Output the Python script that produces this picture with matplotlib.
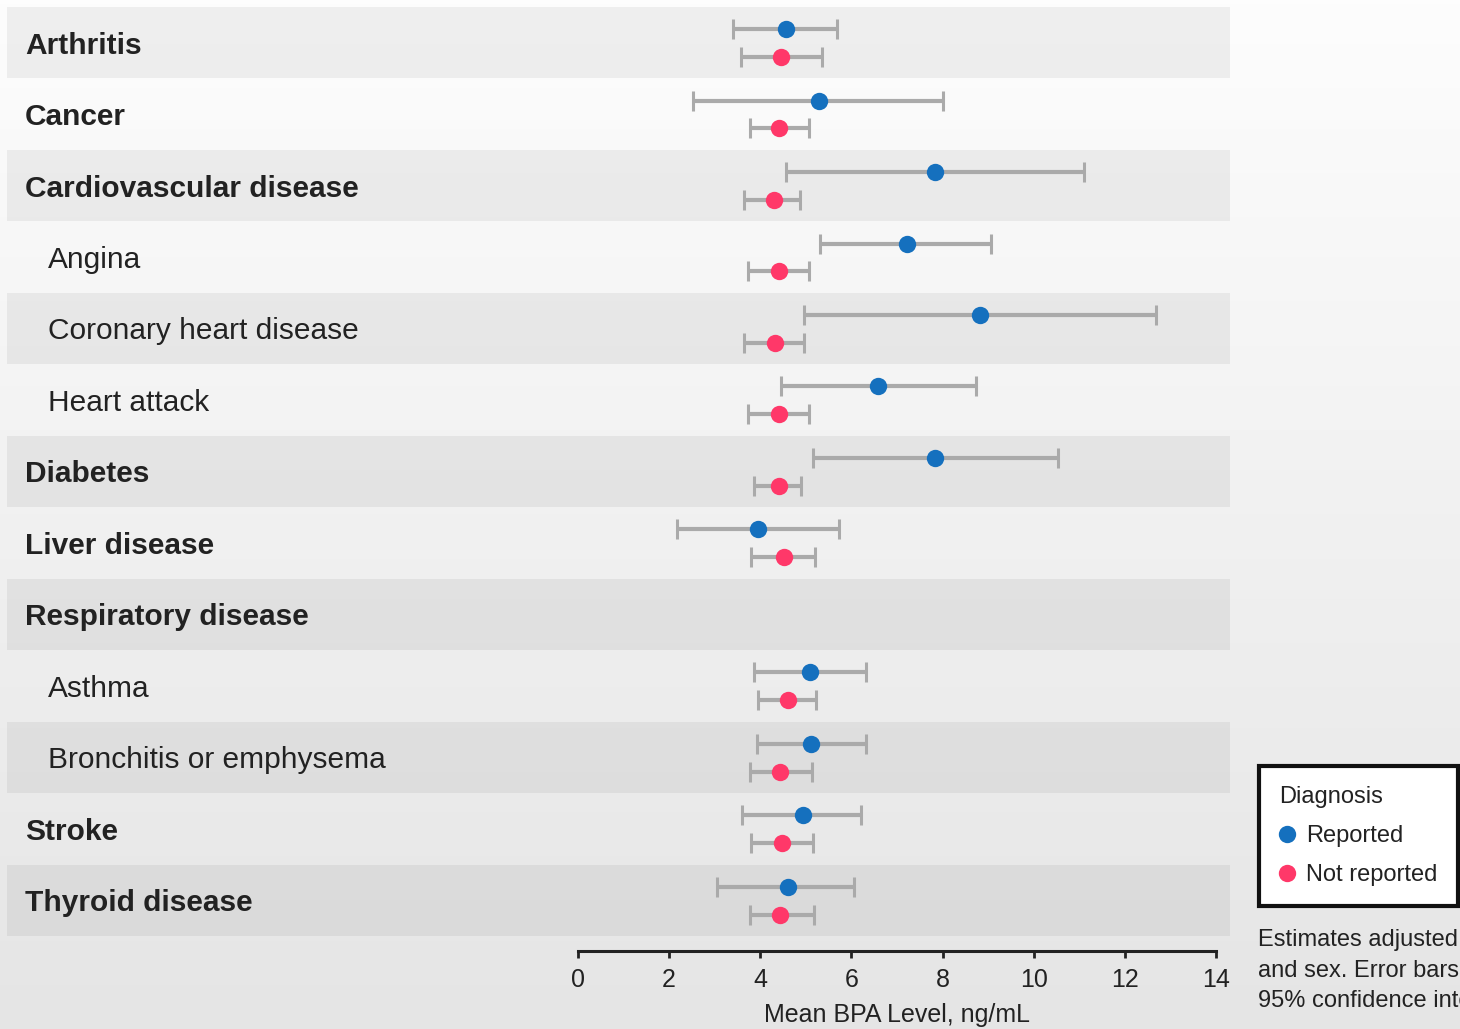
import numpy as np
import matplotlib
matplotlib.use("Agg")
import matplotlib.pyplot as plt
from matplotlib.lines import Line2D

plt.rcParams['font.family'] = ['Liberation Sans', 'DejaVu Sans']

# Filas del gráfico (de arriba a abajo)
labels = ["Arthritis", "Cancer", "Cardiovascular disease", "Angina",
          "Coronary heart disease", "Heart attack", "Diabetes", "Liver disease",
          "Respiratory disease", "Asthma", "Bronchitis or emphysema", "Stroke",
          "Thyroid disease"]
is_sub = [False, False, False, True, True, True, False, False, False,
          True, True, False, False]

# Diagnóstico reportado
rep_mean = [4.56, 5.28, 7.84, 7.21, 8.83, 6.59, 7.84, 3.96, np.nan, 5.08, 5.12, 4.94, 4.61]
rep_lo = [3.41, 2.53, 4.56, 5.30, 4.97, 4.45, 5.16, 2.18, np.nan, 3.86, 3.92, 3.60, 3.06]
rep_hi = [5.68, 8.02, 11.10, 9.06, 12.68, 8.74, 10.53, 5.73, np.nan, 6.33, 6.33, 6.21, 6.06]

# Diagnóstico no reportado
not_mean = [4.45, 4.41, 4.29, 4.42, 4.33, 4.42, 4.42, 4.52, np.nan, 4.60, 4.44, 4.48, 4.44]
not_lo = [3.58, 3.77, 3.64, 3.74, 3.64, 3.74, 3.87, 3.80, np.nan, 3.96, 3.77, 3.80, 3.77]
not_hi = [5.35, 5.07, 4.88, 5.07, 4.97, 5.07, 4.89, 5.19, np.nan, 5.22, 5.13, 5.16, 5.18]

BLUE = "#1570be"
PINK = "#ff3869"
GREY = "#aaaaaa"
TXT = "#222222"

W, H = 1460, 1029
fig = plt.figure(figsize=(W / 100, H / 100), dpi=100)

# fondo degradado
bg = fig.add_axes([0, 0, 1, 1], zorder=-10)
grad = np.linspace(253, 229, 256)[:, None] / 255.0
bg.imshow(np.dstack([grad, grad, grad]), aspect="auto", extent=[0, 1, 0, 1])
bg.set_axis_off()

# ejes principales
x0, x1, y0, y1 = 7, 1230, 7, 936
ax = fig.add_axes([x0 / W, 1 - y1 / H, (x1 - x0) / W, (y1 - y0) / H])
ax.patch.set_alpha(0)
unit = (1216 - 578) / 14
ax.set_xlim(-(578 - x0) / unit, 14 + (x1 - 1216) / unit)
n = len(labels)
ax.set_ylim(n, 0)

for i in range(n):
    if i % 2 == 0:
        ax.axhspan(i, i + 1, color="black", alpha=0.055, lw=0, zorder=0)

pos = np.arange(n)
series = [(rep_mean, rep_lo, rep_hi, BLUE, 0.31),
          (not_mean, not_lo, not_hi, PINK, 0.70)]
for mean, lo, hi, col, off in series:
    m = np.array(mean)
    ax.errorbar(m, pos + off, xerr=[m - np.array(lo), np.array(hi) - m],
                fmt="none", ecolor=GREY, elinewidth=3, capsize=7.5,
                capthick=2.2, zorder=2)
    ax.plot(m, pos + off, "o", color=col, ms=12.5, mew=0, zorder=3)

trans = ax.get_yaxis_transform()
for i, (lab, sub) in enumerate(zip(labels, is_sub)):
    if sub:
        ax.text((48 - x0) / (x1 - x0), i + 0.54, lab, transform=trans, va="center",
                ha="left", fontsize=21.5, color=TXT)
    else:
        ax.text((25 - x0) / (x1 - x0), i + 0.54, lab, transform=trans, va="center",
                ha="left", fontsize=21.5, color=TXT, fontweight="bold")

for s in ["left", "right", "top"]:
    ax.spines[s].set_visible(False)
ax.spines["bottom"].set_bounds(0, 14)
ax.spines["bottom"].set_position(("outward", 11))
ax.spines["bottom"].set_linewidth(2.2)
ax.spines["bottom"].set_color(TXT)
ax.set_yticks([])
ax.set_xticks(np.arange(0, 15, 2))
ax.tick_params(axis="x", direction="out", length=5, width=2, color=TXT,
               labelsize=18, labelcolor=TXT, pad=7)
ax.set_xlabel("Mean BPA Level, ng/mL", fontsize=18, color=TXT)
ax.xaxis.set_label_coords((897 - x0) / (x1 - x0), -0.072)

# leyenda
handles = [Line2D([], [], ls="none", marker="o", color=BLUE, ms=12.5, mew=0),
           Line2D([], [], ls="none", marker="o", color=PINK, ms=12.5, mew=0)]
leg = fig.legend(handles, ["Reported", "Not reported"], title="Diagnosis",
                 loc="upper left", bbox_to_anchor=(1259 / W, 1 - 766 / H),
                 fontsize=17, title_fontsize=17, frameon=True, fancybox=False,
                 borderpad=0.85, handlelength=0.7, handletextpad=0.45,
                 labelspacing=0.72, alignment="left", borderaxespad=0)
leg.get_frame().set_edgecolor("#111111")
leg.get_frame().set_linewidth(3)
leg.get_frame().set_facecolor("white")
leg.get_frame().set_alpha(1)
for t in leg.get_texts():
    t.set_color(TXT)
leg.get_title().set_color(TXT)

fig.text(1258 / W, 1 - 929 / H,
         "Estimates adjusted for age\nand sex. Error bars represent\n95% confidence intervals.",
         ha="left", va="top", fontsize=17, color=TXT, linespacing=1.5)

fig.savefig("out.png", dpi=100)
